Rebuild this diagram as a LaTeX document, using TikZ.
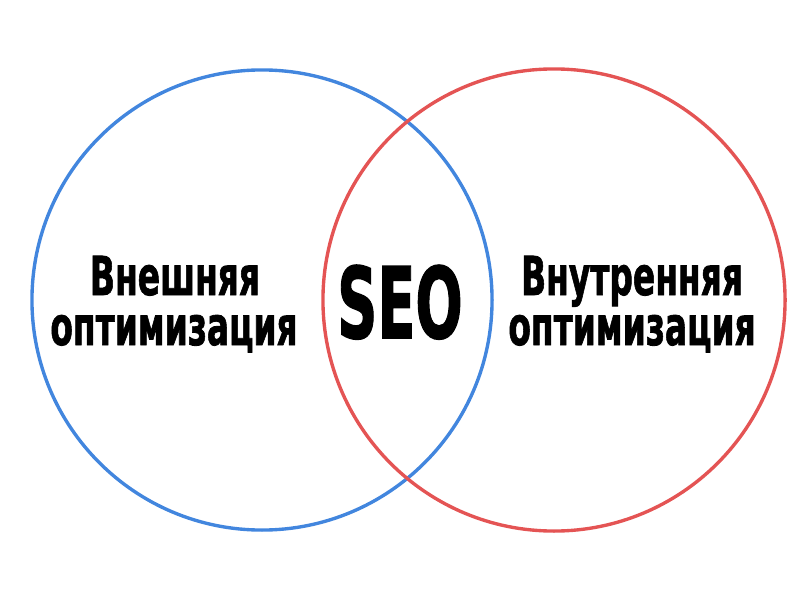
\documentclass[tikz,border=0pt]{standalone}
\usepackage{fontspec}
\setmainfont{DejaVu Sans}[BoldFeatures={FakeBold=1.6}]
\usepackage{graphicx}
\definecolor{seo-blue}{RGB}{66,134,222}
\definecolor{seo-red}{RGB}{228,84,84}
\newcommand{\squeezed}[2]{\scalebox{#1}[1.06]{#2}}

\begin{document}
\begin{tikzpicture}[x=0.025cm, y=0.025cm]
    \tikzset{ ring/.style={circle, line width=2.4pt, inner sep=0pt} }
    \tikzset{ word/.style={anchor=base, inner sep=0pt, text=black, font=\bfseries\fontsize{36}{36}\selectfont} }
    \tikzset{ big/.style={anchor=base, inner sep=0pt, text=black, font=\bfseries\fontsize{66}{66}\selectfont} }

    \useasboundingbox (0,0) rectangle (800,600);

    \node[ring, draw=seo-blue, minimum size=11.5cm]  (outer) at (262,300) {};
    \node[ring, draw=seo-red,  minimum size=11.55cm] (inner) at (554,300) {};

    \node[word] (ext1) at (175,305) {\squeezed{0.65}{Внешняя}};
    \node[word] (ext2) at (174,255) {\squeezed{0.65}{оптимизация}};

    \node[big] (seo) at (400,262) {\squeezed{0.6}{SEO}};

    \node[word] (int1) at (632,305) {\squeezed{0.65}{Внутренняя}};
    \node[word] (int2) at (632,255) {\squeezed{0.65}{оптимизация}};
\end{tikzpicture}
\end{document}
